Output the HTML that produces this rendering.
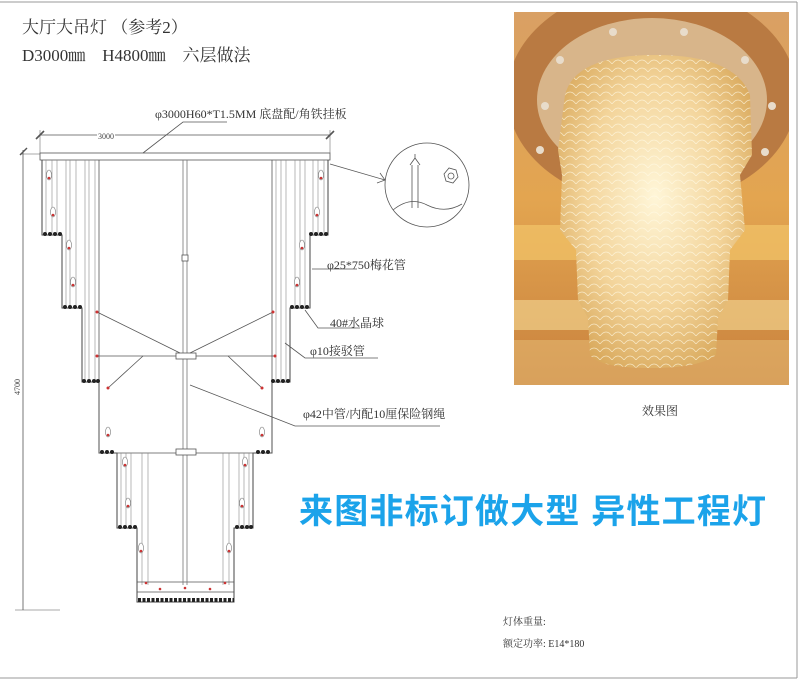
<!DOCTYPE html>
<html><head><meta charset="utf-8">
<style>
html,body{margin:0;padding:0;background:#fff;}
body{width:800px;height:680px;position:relative;overflow:hidden;font-family:"Liberation Serif","Noto Serif CJK SC",serif;}
.t{position:absolute;white-space:nowrap;color:#333;}
</style></head><body>
<svg width="800" height="680" style="position:absolute;left:0;top:0">
<defs>
<radialGradient id="glow" cx="50%" cy="45%" r="60%">
<stop offset="0" stop-color="#fff6d8"/><stop offset="0.6" stop-color="#f3d49a"/><stop offset="1" stop-color="#d9a95c"/>
</radialGradient>
<linearGradient id="bg" x1="0" y1="0" x2="0" y2="1">
<stop offset="0" stop-color="#d9a064"/><stop offset="0.5" stop-color="#e3a550"/><stop offset="1" stop-color="#c9823e"/>
</linearGradient>
<pattern id="mesh" width="12" height="8" patternUnits="userSpaceOnUse">
<path d="M0 8 Q6 0 12 8" fill="none" stroke="#fffbe8" stroke-width="0.8" opacity="0.7"/>
</pattern>
<clipPath id="pc"><rect x="514" y="12" width="275" height="373"/></clipPath>
</defs>
<!-- frame -->
<line x1="0" y1="2" x2="797" y2="2" stroke="#999" stroke-width="1"/>
<line x1="797" y1="2" x2="797" y2="678" stroke="#999" stroke-width="1"/>
<line x1="0" y1="678" x2="797" y2="678" stroke="#999" stroke-width="1"/>

<!-- photo -->
<g clip-path="url(#pc)">
<rect x="514" y="12" width="275" height="373" fill="url(#bg)"/>
<rect x="514" y="225" width="275" height="35" fill="#f2c46a" opacity="0.7"/>
<rect x="514" y="300" width="275" height="30" fill="#f0cf8a" opacity="0.7"/>
<rect x="514" y="340" width="275" height="45" fill="#e8c07a" opacity="0.5"/>
<ellipse cx="652" cy="95" rx="145" ry="110" fill="#b97a42"/>
<ellipse cx="652" cy="100" rx="115" ry="82" fill="#d8b58a"/>
<circle cx="613" cy="32" r="4" fill="#e8dccb"/><circle cx="684" cy="32" r="4" fill="#e8dccb"/>
<circle cx="560" cy="60" r="4" fill="#e8dccb"/><circle cx="745" cy="60" r="4" fill="#e8dccb"/>
<circle cx="545" cy="106" r="4" fill="#e8dccb"/><circle cx="772" cy="106" r="4" fill="#e8dccb"/>
<circle cx="540" cy="150" r="4" fill="#e8dccb"/><circle cx="765" cy="152" r="4" fill="#e8dccb"/>
<path d="M565 95 Q575 55 655 55 Q735 55 750 95 L752 155 L740 175 L745 230 L730 250 L728 300 L718 318 L716 355 Q700 368 650 368 Q600 368 590 355 L588 318 L578 300 L576 250 L560 230 L562 175 L558 150 Z" fill="url(#glow)"/>
<path d="M565 95 Q575 55 655 55 Q735 55 750 95 L752 155 L740 175 L745 230 L730 250 L728 300 L718 318 L716 355 Q700 368 650 368 Q600 368 590 355 L588 318 L578 300 L576 250 L560 230 L562 175 L558 150 Z" fill="url(#mesh)"/>
</g>
<text x="660" y="415" font-size="12" fill="#333" font-family="Liberation Serif,Noto Serif CJK SC,serif" text-anchor="middle">效果图</text>

<g stroke="#555" stroke-width="0.8" fill="none">
<line x1="40" y1="135" x2="330" y2="135"/>
<line x1="36" y1="139" x2="44" y2="131" stroke-width="1.6"/>
<line x1="326" y1="139" x2="334" y2="131" stroke-width="1.6"/>
<line x1="40" y1="130" x2="40" y2="153" stroke-width="0.5"/>
<line x1="330" y1="130" x2="330" y2="153" stroke-width="0.5"/>
<line x1="23" y1="150" x2="23" y2="610"/>
<line x1="20" y1="155" x2="27" y2="148" stroke-width="1.4"/>
<line x1="20" y1="154" x2="42" y2="154" stroke-width="0.5"/>
<line x1="15" y1="610" x2="60" y2="610" stroke-width="0.5"/>
<rect x="40" y="153" width="290" height="7" fill="#fff"/>
<path d="M42 160 V235 H62 V308 H82 V382 H99 V453 H117 V528 H137 V602 H234 V528 H253 V453 H272 V382 H290 V308 H310 V235 H328 V160" stroke="#444" stroke-width="1"/>
<line x1="99" y1="160" x2="99" y2="453"/>
<line x1="272" y1="160" x2="272" y2="453"/>
<line x1="99" y1="453" x2="272" y2="453"/>
<g stroke="#888" stroke-width="0.6">
<line x1="46" y1="160" x2="46" y2="235"/><line x1="52" y1="160" x2="52" y2="235"/>
<line x1="57" y1="160" x2="57" y2="235"/><line x1="66" y1="160" x2="66" y2="308"/>
<line x1="70" y1="160" x2="70" y2="308"/><line x1="76" y1="160" x2="76" y2="308"/>
<line x1="85" y1="160" x2="85" y2="382"/><line x1="89" y1="160" x2="89" y2="382"/>
<line x1="324" y1="160" x2="324" y2="235"/><line x1="318" y1="160" x2="318" y2="235"/>
<line x1="313" y1="160" x2="313" y2="235"/><line x1="305" y1="160" x2="305" y2="308"/>
<line x1="300" y1="160" x2="300" y2="308"/><line x1="295" y1="160" x2="295" y2="308"/>
<line x1="286" y1="160" x2="286" y2="382"/><line x1="281" y1="160" x2="281" y2="382"/>
<line x1="95" y1="160" x2="95" y2="382"/><line x1="276" y1="160" x2="276" y2="382"/>
<line x1="121" y1="453" x2="121" y2="528"/><line x1="126" y1="453" x2="126" y2="528"/>
<line x1="131" y1="453" x2="131" y2="528"/><line x1="142" y1="453" x2="142" y2="585"/>
<line x1="148" y1="453" x2="148" y2="585"/>
<line x1="249" y1="453" x2="249" y2="528"/><line x1="244" y1="453" x2="244" y2="528"/>
<line x1="239" y1="453" x2="239" y2="528"/><line x1="229" y1="453" x2="229" y2="585"/>
<line x1="223" y1="453" x2="223" y2="585"/>
</g>
<line x1="137" y1="582" x2="234" y2="582"/>
<line x1="137" y1="592" x2="234" y2="592"/>
<line x1="183" y1="160" x2="183" y2="585" stroke="#777"/>
<line x1="187" y1="160" x2="187" y2="585" stroke="#777"/>
<rect x="182" y="255" width="6" height="6" fill="#fff"/>
<rect x="176" y="353" width="20" height="6" fill="#fff"/>
<rect x="176" y="449" width="20" height="6" fill="#fff"/>
<line x1="180" y1="353" x2="97" y2="312"/>
<line x1="190" y1="353" x2="273" y2="312"/>
<line x1="176" y1="356" x2="97" y2="356"/>
<line x1="196" y1="356" x2="275" y2="356"/>
<line x1="143" y1="356" x2="108" y2="388"/>
<line x1="228" y1="356" x2="262" y2="388"/>
<polyline points="143,153 183,122 227,122"/>
<line x1="330" y1="164" x2="385" y2="180"/>
<polyline points="380,173 385,180 377,183"/>
<circle cx="427" cy="185" r="42"/>
<path d="M412 165 V208 M418 165 V208 M410 165 L415 158 L420 165 M415 158 V154"/>
<path d="M393 210 Q410 196 427 205 Q445 214 462 204"/>
<polygon points="444,174 449,168 456,170 458,177 453,183 446,181" />
<circle cx="451" cy="176" r="3"/>
<polyline points="312,269 357,269"/>
<polyline points="305,310 318,328 360,328"/>
<polyline points="285,343 305,358 378,358"/>
<polyline points="190,385 295,426 440,426"/>
</g>
<g fill="#222">
<circle cx="45" cy="234" r="2"/><circle cx="50" cy="234" r="2"/><circle cx="55" cy="234" r="2"/><circle cx="60" cy="234" r="2"/>
<circle cx="65" cy="307" r="2"/><circle cx="70" cy="307" r="2"/><circle cx="75" cy="307" r="2"/><circle cx="80" cy="307" r="2"/>
<circle cx="84" cy="381" r="2"/><circle cx="89" cy="381" r="2"/><circle cx="94" cy="381" r="2"/><circle cx="98" cy="381" r="2"/>
<circle cx="102" cy="452" r="2"/><circle cx="107" cy="452" r="2"/><circle cx="112" cy="452" r="2"/>
<circle cx="311" cy="234" r="2"/><circle cx="316" cy="234" r="2"/><circle cx="321" cy="234" r="2"/><circle cx="326" cy="234" r="2"/>
<circle cx="292" cy="307" r="2"/><circle cx="297" cy="307" r="2"/><circle cx="302" cy="307" r="2"/><circle cx="307" cy="307" r="2"/>
<circle cx="273" cy="381" r="2"/><circle cx="278" cy="381" r="2"/><circle cx="283" cy="381" r="2"/><circle cx="288" cy="381" r="2"/>
<circle cx="258" cy="452" r="2"/><circle cx="263" cy="452" r="2"/><circle cx="268" cy="452" r="2"/>
<circle cx="120" cy="527" r="2"/><circle cx="125" cy="527" r="2"/><circle cx="130" cy="527" r="2"/><circle cx="135" cy="527" r="2"/>
<circle cx="237" cy="527" r="2"/><circle cx="242" cy="527" r="2"/><circle cx="247" cy="527" r="2"/><circle cx="251" cy="527" r="2"/>
</g>
<line x1="138" y1="600" x2="234" y2="600" stroke="#222" stroke-width="4" stroke-dasharray="3,1.5"/>
<g fill="#fff" stroke="#777" stroke-width="0.6">
<ellipse cx="49" cy="175" rx="2.5" ry="5"/><ellipse cx="53" cy="212" rx="2.5" ry="5"/>
<ellipse cx="69" cy="245" rx="2.5" ry="5"/><ellipse cx="73" cy="282" rx="2.5" ry="5"/>
<ellipse cx="321" cy="175" rx="2.5" ry="5"/><ellipse cx="317" cy="212" rx="2.5" ry="5"/>
<ellipse cx="302" cy="245" rx="2.5" ry="5"/><ellipse cx="297" cy="282" rx="2.5" ry="5"/>
<ellipse cx="108" cy="432" rx="2.5" ry="5"/><ellipse cx="262" cy="432" rx="2.5" ry="5"/>
<ellipse cx="125" cy="462" rx="2.5" ry="5"/><ellipse cx="128" cy="503" rx="2.5" ry="5"/>
<ellipse cx="245" cy="462" rx="2.5" ry="5"/><ellipse cx="242" cy="503" rx="2.5" ry="5"/>
<ellipse cx="141" cy="548" rx="2.5" ry="5"/><ellipse cx="229" cy="548" rx="2.5" ry="5"/>
</g>
<g fill="#c33">
<circle cx="49" cy="178" r="1.3"/><circle cx="53" cy="215" r="1.3"/><circle cx="69" cy="248" r="1.3"/><circle cx="73" cy="285" r="1.3"/>
<circle cx="321" cy="178" r="1.3"/><circle cx="317" cy="215" r="1.3"/><circle cx="302" cy="248" r="1.3"/><circle cx="297" cy="285" r="1.3"/>
<circle cx="108" cy="435" r="1.3"/><circle cx="262" cy="435" r="1.3"/><circle cx="125" cy="465" r="1.3"/><circle cx="128" cy="506" r="1.3"/>
<circle cx="245" cy="465" r="1.3"/><circle cx="242" cy="506" r="1.3"/><circle cx="141" cy="551" r="1.3"/><circle cx="229" cy="551" r="1.3"/>
<circle cx="97" cy="312" r="1.5"/><circle cx="273" cy="312" r="1.5"/><circle cx="97" cy="356" r="1.5"/><circle cx="275" cy="356" r="1.5"/>
<circle cx="108" cy="388" r="1.5"/><circle cx="262" cy="388" r="1.5"/>
<circle cx="146" cy="583" r="1.3"/><circle cx="160" cy="589" r="1.3"/><circle cx="185" cy="588" r="1.3"/><circle cx="210" cy="589" r="1.3"/><circle cx="225" cy="583" r="1.3"/>
</g>
<text x="98" y="139" font-size="8" fill="#444" font-family="Liberation Serif,serif" style="paint-order:stroke" stroke="#fff" stroke-width="3">3000</text>
<text x="0" y="0" font-size="8" fill="#444" font-family="Liberation Serif,serif" transform="translate(20,395) rotate(-90)">4700</text>
</svg>

<div class="t" style="left:22px;top:13px;font-size:17px;">大厅大吊灯 （参考2）</div>
<div class="t" style="left:22px;top:41px;font-size:17px;">D3000㎜&nbsp;&nbsp;&nbsp;&nbsp;H4800㎜&nbsp;&nbsp;&nbsp;&nbsp;六层做法</div>
<div class="t" style="left:155px;top:105px;font-size:12px;">φ3000H60*T1.5MM 底盘配/角铁挂板</div>
<div class="t" style="left:327px;top:256px;font-size:12px;">φ25*750梅花管</div>
<div class="t" style="left:330px;top:314px;font-size:12px;">40#水晶球</div>
<div class="t" style="left:310px;top:342px;font-size:12px;">φ10接驳管</div>
<div class="t" style="left:303px;top:405px;font-size:12px;">φ42中管/内配10厘保险钢绳</div>
<div class="t" style="left:299px;top:484px;font-size:34px;letter-spacing:1.2px;font-weight:bold;color:#1ba3ea;font-family:'Liberation Sans','Noto Sans CJK SC',sans-serif;">来图非标订做大型 异性工程灯</div>
<div class="t" style="left:503px;top:613px;font-size:10px;">灯体重量:</div>
<div class="t" style="left:503px;top:635px;font-size:10px;">额定功率: E14*180</div>
</body></html>
